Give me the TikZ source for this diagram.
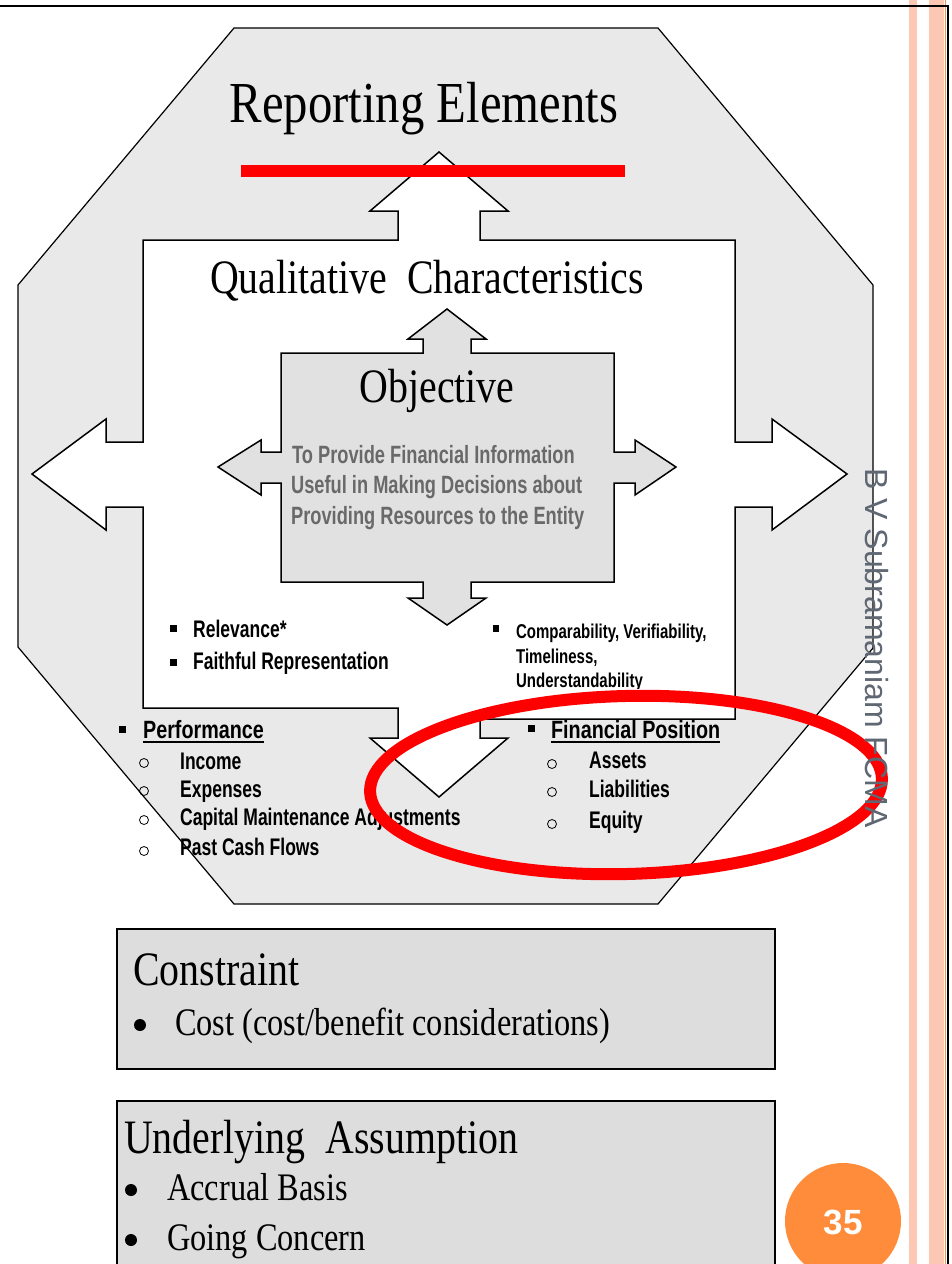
\documentclass[tikz,border=0pt]{standalone}
\usepackage{fontspec}
\setmainfont{Liberation Serif}
\setsansfont{Liberation Sans}

\definecolor{octgray}{RGB}{233,233,233}
\definecolor{objgray}{RGB}{225,225,225}
\definecolor{boxgray}{RGB}{221,221,221}
\definecolor{objtextgray}{RGB}{105,105,105}
\definecolor{authorgray}{RGB}{95,103,115}
\definecolor{pageorange}{RGB}{255,140,58}
\definecolor{salmon}{RGB}{252,200,180}
\definecolor{edgeorange}{RGB}{245,140,80}

\tikzset{
  bigtitle/.style={font=\fontsize{58}{60}\selectfont, xscale=.84, inner sep=0, anchor=base},
  title/.style={font=\fontsize{48}{50}\selectfont, xscale=.83, inner sep=0, anchor=base},
  lefttitle/.style={title, anchor=base west},
  bodyserif/.style={font=\fontsize{39}{40}\selectfont, xscale=.83, inner sep=0, anchor=base west},
  objtext/.style={font=\sffamily\bfseries\fontsize{25}{27}\selectfont, text=objtextgray, xscale=.73, inner sep=0, anchor=base west},
  listtext/.style={font=\sffamily\bfseries\fontsize{24}{26}\selectfont, xscale=.73, inner sep=0, anchor=base west},
  smalltext/.style={font=\sffamily\bfseries\fontsize{20}{22}\selectfont, xscale=.75, inner sep=0, anchor=base west},
  listhead/.style={font=\sffamily\bfseries\fontsize{25}{27}\selectfont, xscale=.79, inner sep=0, anchor=base west},
  uline/.style={line width=2pt},
  ringbullet/.style={line width=.8pt},
  octagon/.style={draw=black, fill=octgray, line width=1.2pt},
  frame/.style={draw=black, fill=white, line width=1.5pt},
  objbox/.style={draw=black, fill=objgray, line width=1.5pt},
  infobox/.style={draw=black, fill=boxgray, line width=2pt},
  redring/.style={draw=red, line width=12pt},
}

\begin{document}
\begin{tikzpicture}[x=1pt,y=-1pt,line join=miter]
        \clip (0,0) rectangle (951,1264);
        \fill[white] (0,0) rectangle (951,1264);

        % side stripes and page rule
        \fill[salmon] (909,0) rectangle (917,1264);
        \fill[salmon] (929,0) rectangle (944,1264);
        \draw[edgeorange, line width=1.5pt] (945.5,0) -- (945.5,1264);
        \draw[line width=1.5pt] (948,6) -- (948,1264);
        \draw[line width=2pt] (0,6) -- (948.7,6);

        % octagon
        \draw[octagon] (234,28) -- (658,28) -- (873,285) -- (873,648) -- (658,904)
          -- (234,904) -- (18,647) -- (18,285) -- cycle;

        % white frame with four arrows
        \draw[frame] (143,240) -- (398,240) -- (398,211) -- (370,211) -- (439,152)
          -- (508,211) -- (480,211) -- (480,240) -- (735,240) -- (735,442)
          -- (772,442) -- (772,419) -- (847,474) -- (772,530) -- (772,507)
          -- (735,507) -- (735,719) -- (480,719) -- (480,738) -- (508,738)
          -- (439,797) -- (370,738) -- (398,738) -- (398,708) -- (143,708)
          -- (143,507) -- (106,507) -- (106,530) -- (32,474) -- (106,419)
          -- (106,442) -- (143,442) -- cycle;

        % objective box with four arrows
        \draw[objbox] (281,353) -- (423,353) -- (423,339) -- (408,339) -- (447,309)
          -- (486,339) -- (471,339) -- (471,353) -- (614,353) -- (614,452)
          -- (635,452) -- (635,440) -- (676,467) -- (635,495) -- (635,483)
          -- (614,483) -- (614,582) -- (471,582) -- (471,598) -- (486,598)
          -- (447,625) -- (408,598) -- (423,598) -- (423,582) -- (281,582)
          -- (281,483) -- (261,483) -- (261,495) -- (218,467) -- (261,440)
          -- (261,452) -- (281,452) -- cycle;

        % titles
        \draw (424,122) node[bigtitle] (repel) {Reporting Elements};
        \draw (427,293) node[title] (qualchar) {Qualitative\ \ Characteristics};
        \draw (437,402) node[title] (objtitle) {Objective};

        % objective text
        \draw (292,463) node[objtext] (obja) {To Provide Financial Information};
        \draw (291,493) node[objtext] (objb) {Useful in Making Decisions about};
        \draw (291,524) node[objtext] (objc) {Providing Resources to the Entity};

        % fundamental characteristics
        \fill (169.5,624.5) rectangle (176.5,631.5);
        \draw (193,637) node[listtext] (relev) {Relevance*};
        \fill (169.5,658.5) rectangle (176.5,665.5);
        \draw (193,669) node[listtext] (faith) {Faithful Representation};

        % enhancing characteristics
        \fill (493,624.5) rectangle (499,631.5);
        \draw (516,638) node[smalltext] (compar) {Comparability, Verifiability,};
        \draw (516,663) node[smalltext] (timely) {Timeliness,};
        \begin{scope}
          \clip (480,600) rectangle (735,688);
          \draw (516,687) node[smalltext] (underst) {Understandability};
        \end{scope}

        % performance
        \fill (119,725.5) rectangle (126,732.5);
        \draw (143,738) node[listhead] (perf) {Performance};
        \draw[uline] ([yshift=-4pt]perf.base west) -- ([yshift=-4pt]perf.base east);
        \draw[ringbullet] (144,763) circle (4.5);
        \draw (180,769) node[listtext] (income) {Income};
        \draw[ringbullet] (144,791) circle (4.5);
        \draw (180,797) node[listtext] (expense) {Expenses};
        \draw[ringbullet] (144,820) circle (4.5);
        \draw (180,825) node[listtext] (capmaint) {Capital Maintenance Adjustments};
        \draw[ringbullet] (144,851) circle (4.5);
        \draw (180,855) node[listtext] (cashflow) {Past Cash Flows};

        % financial position
        \fill (527.5,724.5) rectangle (534.5,731.5);
        \draw (551,738) node[listhead] (finpos) {Financial Position};
        \draw[uline] ([yshift=-3.5pt]finpos.base west) -- ([yshift=-3.5pt]finpos.base east);
        \draw[ringbullet] (552,764) circle (4.5);
        \draw (589,768) node[listtext] (assets) {Assets};
        \draw[ringbullet] (552,792) circle (4.5);
        \draw (589,797) node[listtext] (liab) {Liabilities};
        \draw[ringbullet] (552,824) circle (4.5);
        \draw (589,828) node[listtext] (equity) {Equity};

        % red marks
        \fill[red] (241,165) rectangle (625,177);
        \draw[redring, rotate around={1.5:(626,785)}] (626,785) ellipse (256 and 89);

        % constraint
        \draw[infobox] (117,929) rectangle (775,1069);
        \draw (133,985) node[lefttitle] (constr) {Constraint};
        \fill (140,1025) circle (6);
        \draw (175,1035) node[bodyserif] (cost) {Cost (cost/benefit considerations)};

        % underlying assumption
        \draw[infobox] (117,1101) rectangle (775,1290);
        \draw (124,1153) node[lefttitle] (assump) {Underlying\ \ Assumption};
        \fill (131,1190) circle (6);
        \draw (167,1200) node[bodyserif] (accrual) {Accrual Basis};
        \fill (131,1240) circle (6);
        \draw (167,1250) node[bodyserif] (goingc) {Going Concern};

        % page number and author
        \fill[pageorange] (843,1221) circle (58);
        \draw (843,1222) node[font=\sffamily\bfseries\fontsize{35}{36}\selectfont, text=white, inner sep=0] (pagenum) {35};
        \draw (877,648) node[font=\sffamily\fontsize{32}{34}\selectfont, text=authorgray, inner sep=0, rotate=-90] (author) {B V Subramaniam FCMA};

      \end{tikzpicture}
\end{document}
